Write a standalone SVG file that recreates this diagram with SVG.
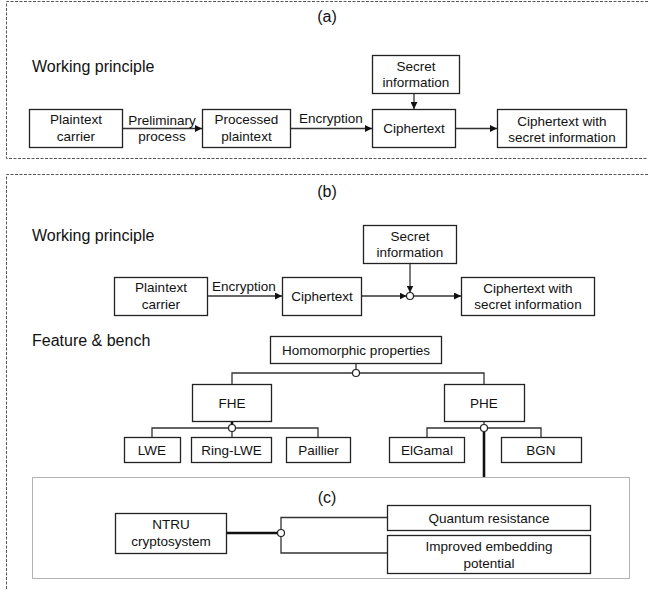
<svg xmlns="http://www.w3.org/2000/svg" width="649" height="590" viewBox="0 0 649 590">
<defs>
<marker id="arr" viewBox="0 0 10 10" refX="10" refY="5" markerWidth="7" markerHeight="7" markerUnits="userSpaceOnUse" orient="auto">
<path d="M0,0 L10,5 L0,10 z" fill="#111"/>
</marker>
<style>
text{font-family:"Liberation Sans",Arial,sans-serif;fill:#111}
.t{font-size:13.5px;text-anchor:middle}
.h{font-size:16px}
.lbl{font-size:16px;text-anchor:middle}
.box{fill:#fff;stroke:#222;stroke-width:1.3}
.ln{fill:none;stroke:#333;stroke-width:1.3}
.thick{fill:none;stroke:#111;stroke-width:2.6}
.dash{fill:none;stroke:#555;stroke-width:1;stroke-dasharray:3 1.5}
.dot{fill:none;stroke:#666;stroke-width:1;stroke-dasharray:1 1}
.c{fill:#fff;stroke:#222;stroke-width:1.2}
</style>
</defs>
<rect width="649" height="590" fill="#fff"/>

<!-- panel frames -->
<g id="panels">
<path class="dash" d="M648,1.5 H6.5 V158.5 H648"/>
<path class="dash" d="M648,174.5 H6.5 V590"/>
<rect class="dot" x="32.5" y="477.5" width="597" height="101"/>
<text class="lbl" x="327" y="22">(a)</text>
<text class="lbl" x="327" y="197">(b)</text>
<text class="lbl" x="327" y="503">(c)</text>
<text class="h" x="32" y="72">Working principle</text>
<text class="h" x="32" y="241">Working principle</text>
<text class="h" x="32" y="346">Feature &amp; bench</text>
</g>

<!-- connectors -->
<g id="connectors">
<!-- panel a -->
<line class="ln" x1="123" y1="128.5" x2="202" y2="128.5" marker-end="url(#arr)"/>
<line class="ln" x1="291" y1="128.5" x2="372" y2="128.5" marker-end="url(#arr)"/>
<line class="ln" x1="414" y1="93" x2="414" y2="109" marker-end="url(#arr)"/>
<line class="ln" x1="456" y1="128.5" x2="497" y2="128.5" marker-end="url(#arr)"/>
<!-- panel b -->
<line class="ln" x1="208" y1="296" x2="282" y2="296" marker-end="url(#arr)"/>
<line class="ln" x1="362" y1="296" x2="406.5" y2="296" marker-end="url(#arr)"/>
<line class="ln" x1="410" y1="263" x2="410" y2="292.5" marker-end="url(#arr)"/>
<line class="ln" x1="413.5" y1="296" x2="461" y2="296" marker-end="url(#arr)"/>
<circle class="c" cx="410" cy="296" r="3.5"/>
<!-- tree -->
<path class="ln" d="M356,364 V369.5"/>
<path class="ln" d="M232,384 V373 H484 V384"/>
<circle class="c" cx="356" cy="373" r="3.5"/>
<path class="thick" d="M232,421 V425"/>
<path class="ln" d="M152,437 V428 H318 V437 M232,428 V437"/>
<circle class="c" cx="232" cy="428" r="3.5"/>
<path class="ln" d="M427,437 V428 H541 V437 M484,421 V425"/>
<path class="thick" d="M484,432 V477"/>
<circle class="c" cx="484" cy="428" r="3.5"/>
<!-- panel c -->
<path class="thick" d="M227,533 H277.5"/>
<path class="ln" d="M387,517.5 H281 V553 H387"/>
<circle class="c" cx="281" cy="533" r="3.5"/>
</g>

<!-- panel a nodes -->
<g id="a-plaintext"><rect class="box" x="29.5" y="109.5" width="93" height="38"/><text class="t" x="76" y="124">Plaintext</text><text class="t" x="76" y="141">carrier</text></g>
<g id="a-prelim"><text class="t" x="162" y="125">Preliminary</text><text class="t" x="162" y="141">process</text></g>
<g id="a-processed"><rect class="box" x="202.5" y="109.5" width="88" height="38"/><text class="t" x="246.5" y="124">Processed</text><text class="t" x="246.5" y="141">plaintext</text></g>
<g id="a-enc"><text class="t" x="331" y="123">Encryption</text></g>
<g id="a-secret"><rect class="box" x="372.5" y="55.5" width="87" height="38"/><text class="t" x="416" y="71">Secret</text><text class="t" x="416" y="87">information</text></g>
<g id="a-cipher"><rect class="box" x="372.5" y="109.5" width="83" height="38"/><text class="t" x="414" y="133">Ciphertext</text></g>
<g id="a-result"><rect class="box" x="497.5" y="109.5" width="129" height="38"/><text class="t" x="562" y="126">Ciphertext with</text><text class="t" x="562" y="142">secret information</text></g>

<!-- panel b nodes -->
<g id="b-plaintext"><rect class="box" x="114.5" y="277.5" width="93" height="38"/><text class="t" x="161" y="292">Plaintext</text><text class="t" x="161" y="309">carrier</text></g>
<g id="b-enc"><text class="t" x="244" y="291">Encryption</text></g>
<g id="b-cipher"><rect class="box" x="282.5" y="277.5" width="79" height="38"/><text class="t" x="322" y="301">Ciphertext</text></g>
<g id="b-secret"><rect class="box" x="363.5" y="225.5" width="93" height="38"/><text class="t" x="410" y="241">Secret</text><text class="t" x="410" y="257">information</text></g>
<g id="b-result"><rect class="box" x="461.5" y="277.5" width="133" height="38"/><text class="t" x="528" y="293">Ciphertext with</text><text class="t" x="528" y="309">secret information</text></g>

<!-- tree nodes -->
<g id="homomorphic"><rect class="box" x="270.5" y="336.5" width="171" height="27"/><text class="t" x="356" y="355">Homomorphic properties</text></g>
<g id="fhe"><rect class="box" x="192.5" y="384.5" width="79" height="37"/><text class="t" x="232" y="408">FHE</text></g>
<g id="phe"><rect class="box" x="444.5" y="384.5" width="80" height="37"/><text class="t" x="484" y="408">PHE</text></g>
<g id="lwe"><rect class="box" x="124.5" y="437.5" width="56" height="25"/><text class="t" x="152" y="455">LWE</text></g>
<g id="ringlwe"><rect class="box" x="191.5" y="437.5" width="80" height="25"/><text class="t" x="231.5" y="455">Ring-LWE</text></g>
<g id="paillier"><rect class="box" x="286.5" y="437.5" width="64" height="25"/><text class="t" x="318.5" y="455">Paillier</text></g>
<g id="elgamal"><rect class="box" x="389.5" y="437.5" width="75" height="25"/><text class="t" x="427" y="455">ElGamal</text></g>
<g id="bgn"><rect class="box" x="501.5" y="437.5" width="80" height="25"/><text class="t" x="541" y="455">BGN</text></g>

<!-- panel c nodes -->
<g id="ntru"><rect class="box" x="115.5" y="513.5" width="111" height="40"/><text class="t" x="171" y="529">NTRU</text><text class="t" x="171" y="546">cryptosystem</text></g>
<g id="quantum"><rect class="box" x="387.5" y="505.5" width="203" height="25"/><text class="t" x="489" y="523">Quantum resistance</text></g>
<g id="improved"><rect class="box" x="387.5" y="535.5" width="203" height="38"/><text class="t" x="489" y="551">Improved embedding</text><text class="t" x="489" y="568">potential</text></g>
</svg>
